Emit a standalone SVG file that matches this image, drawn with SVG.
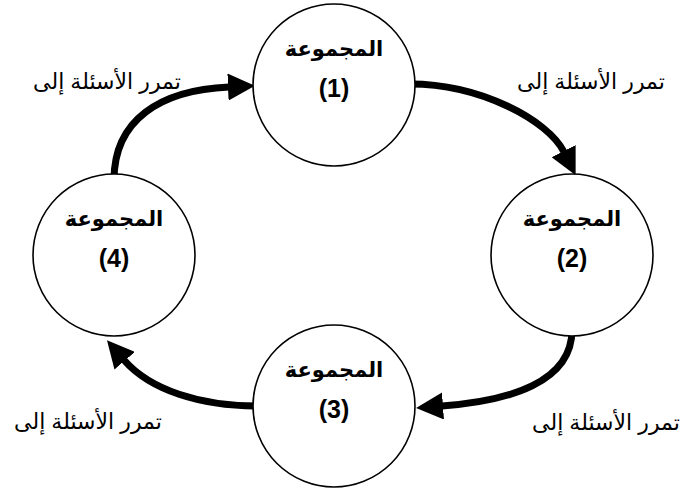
<svg xmlns="http://www.w3.org/2000/svg" width="685" height="491" viewBox="0 0 685 491">
<style>
.node circle{fill:#fff;stroke:#000;stroke-width:1.6}
.title{font-family:"Liberation Sans","DejaVu Sans",sans-serif;font-weight:bold;font-size:21px;text-anchor:middle;fill:#000}
.num{font-family:"Liberation Sans","DejaVu Sans",sans-serif;font-weight:bold;font-size:25px;text-anchor:middle;fill:#000}
.lbl{font-family:"Liberation Sans","DejaVu Sans",sans-serif;font-size:22px;text-anchor:middle;fill:#000}
.conn path{fill:none;stroke:#000;stroke-width:7}
</style>
<defs>
<marker id="ah" markerUnits="userSpaceOnUse" markerWidth="27" markerHeight="27" viewBox="0 0 27 27" refX="1" refY="13.5" orient="auto">
<path d="M0,0 L27,13.5 L0,27 z" fill="#000"/>
</marker>
</defs>
<rect width="685" height="491" fill="#fff"/>
<g id="connectors" class="conn">
<path d="M410,84 C480,84 548,120 564,152" marker-end="url(#ah)"/>
<path d="M572,330 C572,382 510,401 442,406" marker-end="url(#ah)"/>
<path d="M258,406 C200,406 150,390 124,360" marker-end="url(#ah)"/>
<path d="M114,180 C114,120 160,90 229,87" marker-end="url(#ah)"/>
</g>
<g id="node1" class="node">
<circle cx="334" cy="85" r="81"/>
<text class="title" x="334" y="56">المجموعة</text>
<text class="num" x="334" y="97">(1)</text>
</g>
<g id="node2" class="node">
<circle cx="572" cy="255" r="81"/>
<text class="title" x="572" y="226">المجموعة</text>
<text class="num" x="572" y="267">(2)</text>
</g>
<g id="node3" class="node">
<circle cx="334" cy="406" r="81"/>
<text class="title" x="334" y="377">المجموعة</text>
<text class="num" x="334" y="418">(3)</text>
</g>
<g id="node4" class="node">
<circle cx="114" cy="255" r="81"/>
<text class="title" x="114" y="226">المجموعة</text>
<text class="num" x="114" y="267">(4)</text>
</g>
<g id="labels">
<text class="lbl" x="107" y="89">تمرر الأسئلة إلى</text>
<text class="lbl" x="591" y="89">تمرر الأسئلة إلى</text>
<text class="lbl" x="606" y="430">تمرر الأسئلة إلى</text>
<text class="lbl" x="88" y="429">تمرر الأسئلة إلى</text>
</g>
</svg>
